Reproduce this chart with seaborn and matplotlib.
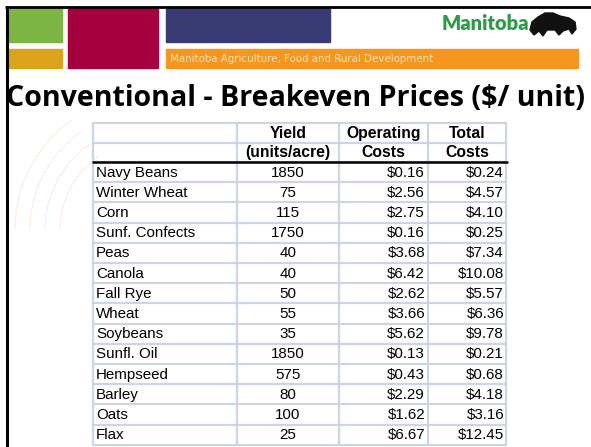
import numpy as np
import pandas as pd
import seaborn as sns
import matplotlib.pyplot as plt
from matplotlib.patches import Rectangle, Polygon, Arc

# -----------------------------
# DATA
# -----------------------------
crops = ['Navy Beans', 'Winter Wheat', 'Corn', 'Sunf. Confects', 'Peas', 'Canola',
         'Fall Rye', 'Wheat', 'Soybeans', 'Sunfl. Oil', 'Hempseed', 'Barley',
         'Oats', 'Flax']
yields = [1850, 75, 115, 1750, 40, 40, 50, 55, 35, 1850, 575, 80, 100, 25]
operating = [0.16, 2.56, 2.75, 0.16, 3.68, 6.42, 2.62, 3.66, 5.62, 0.13, 0.43, 2.29, 1.62, 6.67]
total = [0.24, 4.57, 4.10, 0.25, 7.34, 10.08, 5.57, 6.36, 9.78, 0.21, 0.68, 4.18, 3.16, 12.45]

header_top = ['', 'Yield', 'Operating', 'Total']
header_bot = ['', '(units/acre)', 'Costs', 'Costs']

title = 'Conventional - Breakeven Prices ($/ unit)'

df = pd.DataFrame({'Crop': crops, 'Yield': yields,
                   'Operating': operating, 'Total': total})

# -----------------------------
# FIGURE (pixel coordinates)
# -----------------------------
sns.set_style('white')
plt.rcParams['font.family'] = ['Liberation Sans', 'DejaVu Sans']
plt.rcParams['text.color'] = 'black'

fig = plt.figure(figsize=(5.91, 4.47), dpi=100)
ax = fig.add_axes([0, 0, 1, 1])
ax.set_xlim(0, 591)
ax.set_ylim(447, 0)
ax.axis('off')

# faint decorative swirl on the left
for r in [90, 105, 120, 135]:
    ax.add_patch(Arc((150, 230), 2 * r, 2 * r, theta1=180, theta2=235,
                     color='#fdf0e3', lw=1.0, zorder=0))

# -----------------------------
# BANNER
# -----------------------------
ax.add_patch(Rectangle((8, 8), 54, 34, color='#7cb543', zorder=1))
ax.add_patch(Rectangle((8, 49), 54, 19, color='#dca21a', zorder=1))
ax.add_patch(Rectangle((68, 7), 90, 61, color='#a6003f', zorder=1))
ax.add_patch(Rectangle((166, 7), 164, 35, color='#393c74', zorder=1))
ax.add_patch(Rectangle((166, 49), 412, 19, color='#f6961f', zorder=1))
ax.text(170, 59, 'Manitoba Agriculture, Food and Rural Development',
        color='#fbe3b8', fontsize=7.4, family='DejaVu Sans', va='center',
        ha='left', zorder=2)
ax.text(442, 24, 'Manitoba', color='#2e9b4a', fontsize=14.5, weight='heavy',
        family='Lato', va='center', ha='left', zorder=2)
bison = [(530, 30), (532, 22), (538, 17), (545, 13), (553, 13), (560, 16),
         (569, 18), (575, 22), (576, 29), (572, 34), (569, 29), (563, 31),
         (559, 35), (555, 30), (547, 30), (543, 36), (539, 31), (534, 35)]
ax.add_patch(Polygon(bison, closed=True, color='#111111', zorder=2))

# black frame (top and left)
ax.plot([5, 591], [6.5, 6.5], color='black', lw=2, zorder=3,
        solid_capstyle='butt')
ax.plot([6.5, 6.5], [5.5, 447], color='black', lw=2.2, zorder=3,
        solid_capstyle='butt')

# -----------------------------
# TITLE
# -----------------------------
ax.text(6, 99, title, fontsize=20.6, weight='bold', family='Open Sans',
        va='center', ha='left', zorder=3)

# -----------------------------
# TABLE
# -----------------------------
col_edges = [93, 237, 339, 428, 506]
head_top = 123
head_h = 19.5
body_top = head_top + 2 * head_h
row_h = 20.2
grid_col = '#ccd5e5'

n = len(df)
row_edges = [head_top, head_top + head_h] + [body_top + i * row_h for i in range(n + 1)]
for y in row_edges:
    ax.plot([col_edges[0], col_edges[-1]], [y, y], color=grid_col, lw=1.6, zorder=2)
for x in col_edges:
    ax.plot([x, x], [head_top, row_edges[-1]], color=grid_col, lw=1.6, zorder=2)
ax.plot([col_edges[0], col_edges[-1] + 1], [body_top, body_top], color='black',
        lw=1.8, zorder=3)

centers = [(col_edges[i] + col_edges[i + 1]) / 2 for i in range(4)]
for j in range(1, 4):
    ax.text(centers[j], head_top + head_h / 2 + 0.5, header_top[j], ha='center',
            va='center', fontsize=11.3, weight='bold', zorder=4)
    ax.text(centers[j], head_top + 1.5 * head_h + 0.5, header_bot[j], ha='center',
            va='center', fontsize=11.3, weight='bold', zorder=4)

fs = 10.9
for i, row in df.iterrows():
    yc = body_top + (i + 0.5) * row_h + 0.5
    ax.text(col_edges[0] + 3, yc, row['Crop'], ha='left', va='center', fontsize=fs, zorder=4)
    ax.text(centers[1], yc, f"{row['Yield']:d}", ha='center', va='center', fontsize=fs, zorder=4)
    ax.text(col_edges[2] + 86, yc, f"${row['Operating']:.2f}", ha='right', va='center',
            fontsize=fs, zorder=4)
    ax.text(col_edges[4] - 2, yc, f"${row['Total']:.2f}", ha='right', va='center',
            fontsize=fs, zorder=4)

fig.savefig('out.png', dpi=100)
